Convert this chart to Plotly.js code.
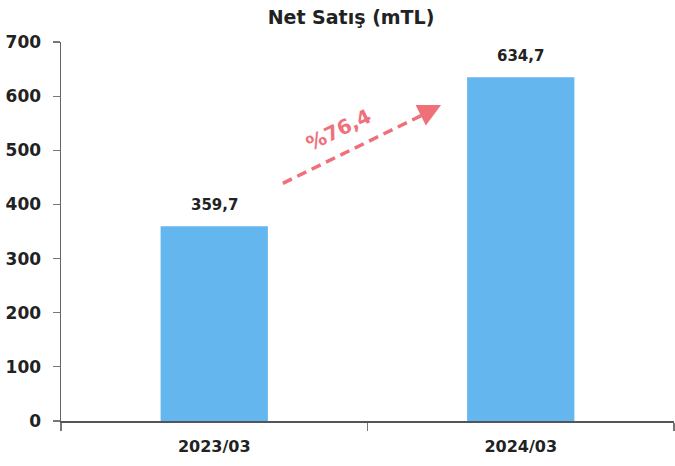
<!DOCTYPE html>
<html>
<head>
<meta charset="utf-8">
<script src="https://cdn.plot.ly/plotly-3.0.1.min.js"></script>
<style>html,body{margin:0;padding:0;background:#fff;}#chart{width:675px;height:466px;}</style>
</head>
<body>
<div id="chart"></div>
<script>
const categories = ['2023/03', '2024/03'];
const netSales = [359.7, 634.7];
const growthPct = [76.4];
const yTicks = [0, 100, 200, 300, 400, 500, 600, 700];

const fmt = v => v.toFixed(1).replace('.', ',');

const FONT = 'DejaVu Sans, Liberation Sans, Arial, sans-serif';
const RED = '#f0707a';

const trace = {
  type: 'bar',
  x: categories,
  y: netSales,
  marker: {color: '#64b6ef'},
  hoverinfo: 'skip'
};

const labelAnns = categories.map((c, i) => ({
  x: c, y: netSales[i], xref: 'x', yref: 'y',
  text: '<b>' + fmt(netSales[i]) + '</b>',
  showarrow: false, yanchor: 'bottom', yshift: 10,
  font: {family: FONT, size: 15, color: '#222'}
}));

const layout = {
  width: 675, height: 466,
  margin: {l: 61, r: 1, t: 42, b: 45},
  paper_bgcolor: '#fff', plot_bgcolor: '#fff',
  bargap: 0.65,
  showlegend: false,
  title: {
    text: '<b>Net Satış (mTL)</b>',
    x: 0.52, xref: 'container', xanchor: 'center',
    y: 0.963, yref: 'container', yanchor: 'middle',
    font: {family: FONT, size: 19, color: '#222'}
  },
  xaxis: {
    type: 'category',
    showline: true, linecolor: '#555', linewidth: 1.5,
    ticks: 'outside', tickson: 'boundaries', ticklen: 8, tickcolor: '#777', tickwidth: 1.2,
    ticklabelstandoff: 10,
    tickfont: {family: FONT, size: 16, color: '#222', weight: 'bold'},
    showgrid: false, zeroline: false
  },
  yaxis: {
    range: [0, 700],
    tickvals: yTicks,
    ticktext: yTicks.map(String),
    showline: true, linecolor: '#666', linewidth: 1.5,
    ticks: 'outside', ticklen: 7, tickcolor: '#777', tickwidth: 1.2,
    ticklabelstandoff: 8,
    tickfont: {family: FONT, size: 17, color: '#222', weight: 'bold'},
    showgrid: false, zeroline: false
  },
  shapes: [{
    type: 'line', xref: 'paper', yref: 'y',
    x0: 0.362, y0: 439, x1: 0.600, y1: 571,
    line: {color: RED, width: 3.5, dash: '10px,6px'}
  }],
  annotations: labelAnns.concat([
    {
      x: 0.620, y: 583.5, xref: 'paper', yref: 'y',
      axref: 'pixel', ayref: 'pixel', ax: -20, ay: 10,
      text: '', showarrow: true, arrowhead: 2, arrowsize: 1.3, arrowwidth: 3.5,
      arrowcolor: RED
    },
    {
      x: 0.452, y: 537, xref: 'paper', yref: 'y',
      text: '<b>%' + fmt(growthPct[0]) + '</b>', showarrow: false,
      textangle: -26,
      font: {family: FONT, size: 20, color: RED}
    }
  ])
};

Plotly.newPlot('chart', [trace], layout, {staticPlot: true, displayModeBar: false});
</script>
</body>
</html>
